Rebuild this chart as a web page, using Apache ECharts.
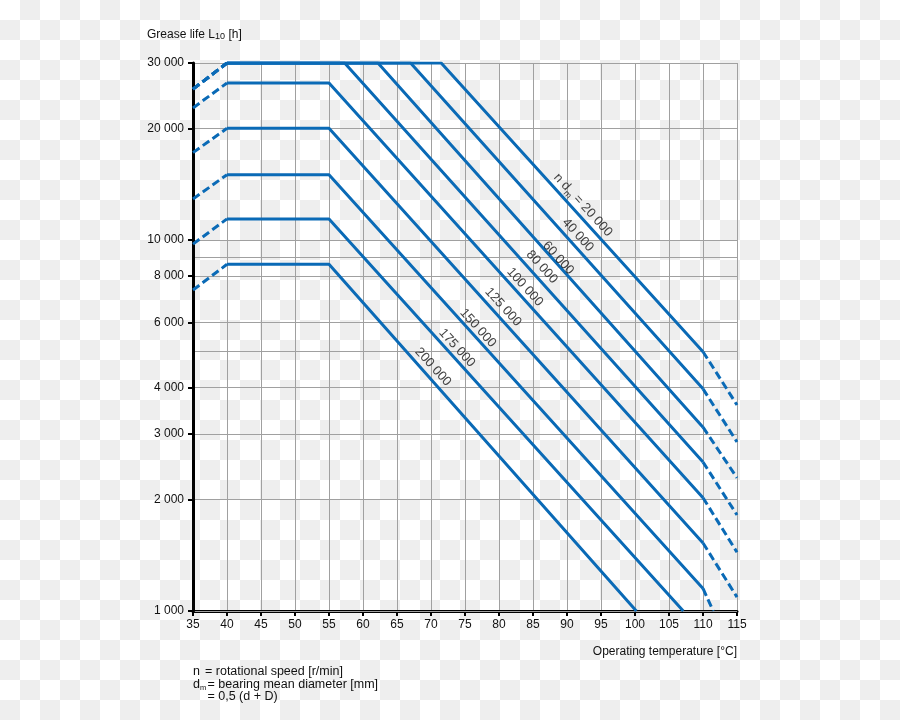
<!DOCTYPE html>
<html><head><meta charset="utf-8">
<script src="https://cdn.jsdelivr.net/npm/echarts@6/dist/echarts.min.js"></script>
<style>
html,body{margin:0;padding:0;}
#c{width:900px;height:720px;background:repeating-conic-gradient(#eeeeee 0 25%, #ffffff 0 50%) 0 0/40px 40px;}
</style></head><body><div id="c"></div>
<script>
// ---- data ----
const speedLabels = ['20 000','40 000','60 000','80 000','100 000','125 000','150 000','175 000','200 000'];
const startTemp = 35;
const plateauStartTemp = 40;
const leftStartLife = [25500,25500,25500,25500,22700,17200,12900,9750,7330];
const plateauLife = [30000,30000,30000,30000,26500,20000,15000,11400,8600];
const plateauEndTemp = [71.5,67,62.2,57.3,55,55,55,55,55];
const solidEndTemp = [110,110,110,110,110,110,110,107.1,100.2];
const solidEndLife = [5000,3970,3130,2520,2020,1525,1150,1000,1000];
const dashEndTemp = [115,115,115,115,115,115,111.5,null,null];
const dashEndLife = [3590,2855,2285,1815,1440,1090,1000,null,null];
const labelTemp = [92.35,91.6,88.7,86.3,83.8,80.6,76.9,73.8,70.3];
const labelLife = [12430,10315,8940,8460,7470,6600,5790,5120,4550];
const xTicks = [35,115,5];
const yTickValues = [1000,2000,3000,4000,6000,8000,10000,20000,30000];
const yGridValues = [1000,2000,3000,4000,5000,6000,8000,9000,10000,20000,30000];

// ---- chart ----
const FONT = '"Liberation Sans", Arial, sans-serif';
const BLUE = '#0a6ab6';
const TXT = '#111';
const fmt = v => String(Math.round(v)).replace(/\B(?=(\d{3})+(?!\d))/g, ' ');
const series = [];
speedLabels.forEach((s, i) => {
  series.push({
    type: 'line', silent: true, symbol: 'none', z: 3,
    lineStyle: { color: BLUE, width: 3, type: [8, 4] },
    data: [[startTemp, leftStartLife[i]], [plateauStartTemp, plateauLife[i]]]
  });
  series.push({
    type: 'line', silent: true, symbol: 'none', z: 3,
    lineStyle: { color: BLUE, width: 3, join: 'round' },
    data: [[plateauStartTemp, plateauLife[i]], [plateauEndTemp[i], plateauLife[i]], [solidEndTemp[i], solidEndLife[i]]]
  });
  if (dashEndTemp[i] != null) {
    series.push({
      type: 'line', silent: true, symbol: 'none', z: 3,
      lineStyle: { color: BLUE, width: 3, type: [8, 4] },
      data: [[solidEndTemp[i], solidEndLife[i]], [dashEndTemp[i], dashEndLife[i]]]
    });
  }
});
series.push({
  type: 'scatter', silent: true, symbolSize: 0, z: 4,
  data: speedLabels.map((s, i) => ({ value: [labelTemp[i], labelLife[i]], name: s })),
  label: {
    show: true, position: 'inside', rotate: -47.7, color: TXT, fontFamily: FONT, fontSize: 13,
    formatter: p => p.dataIndex === 0 ? '{n|n d}{sub|m}{n| = ' + p.name + '}' : '{n|' + p.name + '}',
    rich: {
      n: { fontFamily: FONT, fontSize: 13, color: TXT, lineHeight: 18 },
      sub: { fontFamily: FONT, fontSize: 9, color: TXT, lineHeight: 9, verticalAlign: 'bottom' }
    }
  }
});

const t12 = '12px ' + FONT;
const tL = '12.5px ' + FONT;
const option = {
  animation: false,
  grid: { left: 193, right: 163, top: 63, bottom: 109, containLabel: false },
  xAxis: {
    type: 'value', min: xTicks[0], max: xTicks[1], interval: xTicks[2],
    axisLine: { onZero: false, lineStyle: { color: '#000', width: 3 } },
    axisTick: { length: 5, lineStyle: { color: '#000', width: 2 } },
    axisLabel: { color: TXT, fontSize: 12, fontFamily: FONT, margin: 8 },
    splitLine: { show: true, lineStyle: { color: '#a0a0a0', width: 1 } }
  },
  yAxis: [
    {
      type: 'log', logBase: 10, min: 1000, max: 30000, z: 2,
      axisLine: { show: true, onZero: false, lineStyle: { color: '#000', width: 3 } },
      axisTick: { show: true, length: 5, customValues: yTickValues, lineStyle: { color: '#000', width: 2 } },
      axisLabel: { customValues: yTickValues, color: TXT, fontSize: 12, fontFamily: FONT, margin: 9, formatter: v => fmt(v) },
      splitLine: { show: false }
    },
    {
      type: 'log', logBase: 10, min: 1000, max: 30000, position: 'left', z: 1,
      axisLine: { show: false },
      axisTick: { show: false, customValues: yGridValues },
      axisLabel: { show: false, customValues: yGridValues },
      splitLine: { show: true, lineStyle: { color: '#a0a0a0', width: 1 } }
    }
  ],
  graphic: [
    { type: 'text', left: 147, top: 29, style: { text: 'Grease life L{sub|10} [h]', font: t12, fill: TXT,
      rich: { sub: { fontSize: 9, fontFamily: FONT, fill: TXT, lineHeight: 9, verticalAlign: 'bottom' } } } },
    { type: 'text', x: 737, y: 652, style: { text: 'Operating temperature [°C]', font: t12, fill: TXT, align: 'right', verticalAlign: 'middle' } },
    { type: 'text', x: 193, y: 672, style: { text: 'n', font: tL, fill: TXT, verticalAlign: 'middle' } },
    { type: 'text', x: 205, y: 672, style: { text: '= rotational speed [r/min]', font: tL, fill: TXT, verticalAlign: 'middle' } },
    { type: 'text', x: 193, y: 678.5, style: { text: 'd{sub|m}', font: tL, fill: TXT,
      rich: { sub: { fontSize: 7.5, fontFamily: FONT, fill: TXT, lineHeight: 8, verticalAlign: 'bottom' } } } },
    { type: 'text', x: 207.5, y: 685, style: { text: '= bearing mean diameter [mm]', font: tL, fill: TXT, verticalAlign: 'middle' } },
    { type: 'text', x: 207.5, y: 697, style: { text: '= 0,5 (d + D)', font: tL, fill: TXT, verticalAlign: 'middle' } }
  ],
  series: series
};
const chart = echarts.init(document.getElementById('c'), null, { renderer: 'canvas' });
chart.setOption(option);
</script></body></html>
